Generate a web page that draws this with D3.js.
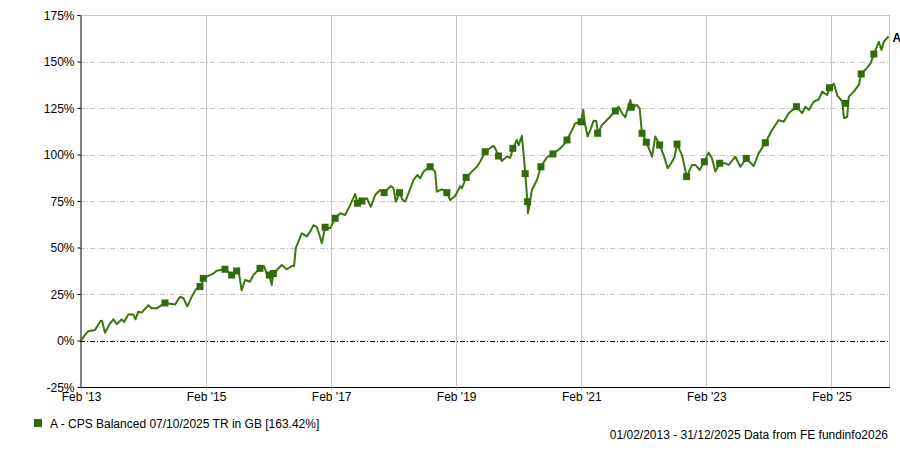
<!DOCTYPE html>
<html>
<head>
<meta charset="utf-8">
<script src="https://cdn.jsdelivr.net/npm/d3@7"></script>
<style>
  body { margin: 0; background: #fff; }
  svg { display: block; font-family: "Liberation Sans", Arial, sans-serif; }
  .grid line { stroke: #c6c6c6; }
  .axis text { font-size: 12px; fill: #000; }
</style>
</head>
<body>
<div id="chart"></div>
<script>
// series A - decimal years and cumulative % growth
var years = [2013.085, 2013.149, 2013.202, 2013.309, 2013.397, 2013.421, 2013.469, 2013.549, 2013.602, 2013.661,
  2013.736, 2013.773, 2013.842, 2013.922, 2013.957, 2014.002, 2014.056, 2014.162, 2014.216, 2014.296,
  2014.429, 2014.589, 2014.669, 2014.725, 2014.786, 2014.856, 2014.925, 2015.005, 2015.045, 2015.096,
  2015.202, 2015.256, 2015.389, 2015.496, 2015.576, 2015.613, 2015.656, 2015.709, 2015.789, 2015.842,
  2015.949, 2016.013, 2016.056, 2016.098, 2016.136, 2016.162, 2016.296, 2016.376, 2016.456, 2016.493,
  2016.520, 2016.616, 2016.696, 2016.749, 2016.802, 2016.856, 2016.898, 2016.936, 2016.989, 2017.069,
  2017.149, 2017.229, 2017.309, 2017.389, 2017.469, 2017.506, 2017.576, 2017.656, 2017.720, 2017.789,
  2017.869, 2017.933, 2018.040, 2018.082, 2018.120, 2018.178, 2018.221, 2018.269, 2018.322, 2018.402,
  2018.466, 2018.509, 2018.562, 2018.669, 2018.749, 2018.776, 2018.856, 2018.936, 2018.989, 2019.069,
  2019.149, 2019.176, 2019.245, 2019.336, 2019.416, 2019.469, 2019.549, 2019.656, 2019.682, 2019.709,
  2019.762, 2019.816, 2019.896, 2019.949, 2019.992, 2020.056, 2020.085, 2020.136, 2020.173, 2020.189,
  2020.226, 2020.232, 2020.253, 2020.296, 2020.376, 2020.440, 2020.536, 2020.632, 2020.749, 2020.797,
  2020.856, 2020.989, 2021.080, 2021.117, 2021.141, 2021.186, 2021.229, 2021.282, 2021.325, 2021.349,
  2021.416, 2021.522, 2021.629, 2021.682, 2021.736, 2021.789, 2021.837, 2021.869, 2021.893, 2021.976,
  2022.018, 2022.056, 2022.125, 2022.216, 2022.269, 2022.338, 2022.402, 2022.466, 2022.536, 2022.578,
  2022.616, 2022.696, 2022.770, 2022.856, 2022.909, 2022.978, 2023.053, 2023.122, 2023.176, 2023.229,
  2023.298, 2023.389, 2023.442, 2023.549, 2023.629, 2023.725, 2023.842, 2023.922, 2024.029, 2024.136,
  2024.242, 2024.322, 2024.402, 2024.525, 2024.616, 2024.669, 2024.722, 2024.802, 2024.882, 2024.936,
  2025.016, 2025.053, 2025.122, 2025.181, 2025.229, 2025.256, 2025.285, 2025.336, 2025.362, 2025.442,
  2025.522, 2025.560, 2025.653, 2025.709, 2025.762, 2025.842, 2025.885, 2025.922, 2025.997];
var growth = [0, 3, 5, 5.6, 10.5, 10.6, 4.2, 9.2, 11.4, 8.8,
  11.4, 10, 14, 14, 11.4, 15.5, 15, 19, 17.3, 17.3,
  20.2, 19.3, 23.5, 22.7, 18.3, 23.5, 27.5, 29, 33.4, 34.3,
  36, 37.5, 38.3, 35.2, 37.4, 36, 27, 32.5, 31.6, 35.2,
  38.8, 40, 36, 35.2, 29.8, 36, 40.6, 38.3, 40, 40,
  49.6, 57.6, 56, 58.5, 62, 61, 56.7, 52.3, 60.9, 60.3,
  65.7, 68.4, 67.5, 72.8, 78.8, 73.8, 75, 76.5, 71.9, 78.2,
  80.9, 79.5, 83.1, 81.8, 74.6, 79.5, 76, 74.6, 79.1, 86.3,
  89, 87.2, 90.8, 93.4, 90.8, 80, 81.3, 79.5, 75.5, 77.7,
  83, 81.8, 87.7, 90.8, 93.4, 96.1, 101.5, 104.2, 104.6, 103.3,
  99.5, 96.5, 99, 98.2, 103, 107.8, 105, 110, 97, 89.7,
  74.6, 68.4, 72, 80.9, 86.3, 93.4, 98.5, 100.3, 103.3, 105,
  107.8, 116.8, 117.6, 124, 116.8, 109.7, 113.2, 118.2, 118, 111.4,
  115.9, 119.5, 123.4, 125.7, 122.2, 120, 126, 129.3, 125.4, 126.6,
  124.8, 111.4, 106.9, 98.8, 109.7, 105.1, 99.7, 92.6, 96.1, 98.8,
  105.6, 99.7, 88.1, 94.4, 94.4, 91.7, 96.1, 101, 97.9, 90.8,
  95.3, 95.3, 94.4, 98.8, 93.4, 97.9, 93.8, 100.6, 106.3, 113.2,
  118.5, 117.6, 122.2, 125.7, 122.2, 125.7, 124, 128.4, 129.7, 133.8,
  132, 135.9, 138.1, 131.5, 129.7, 128.4, 119.5, 120.3, 131.1, 133.8,
  137.4, 143.3, 146.6, 149, 154, 160.6, 156.2, 160.6, 163.42];

// square markers on the line
var markerYears = [2014.429, 2014.989, 2015.042, 2015.389, 2015.496, 2015.576, 2015.949, 2016.098, 2016.162, 2016.989,
  2017.149, 2017.506, 2017.576, 2017.933, 2018.178, 2018.669, 2018.936, 2019.245, 2019.549, 2019.762,
  2019.992, 2020.189, 2020.226, 2020.440, 2020.632, 2020.856, 2021.080, 2021.346, 2021.629, 2021.885,
  2022.056, 2022.125, 2022.338, 2022.616, 2022.770, 2023.053, 2023.298, 2023.725, 2024.029, 2024.525,
  2025.053, 2025.309, 2025.560, 2025.762];
var markerValues = [20.2, 29, 33.4, 38.3, 35.2, 37.4, 38.8, 35.2, 36, 60.9,
  65.7, 73.8, 75, 79.5, 79.5, 93.4, 79.5, 87.7, 101.5, 99.2,
  103.3, 89.7, 74.6, 93.4, 100.3, 107.8, 117.6, 111.4, 123.4, 125.4,
  111.4, 106.6, 105.1, 105.6, 88.1, 96.1, 95.3, 97.9, 106.3, 125.7,
  135.9, 127.5, 143.3, 154];

var xTickDates = ["2013-02-01", "2015-02-01", "2017-02-01", "2019-02-01", "2021-02-01", "2023-02-01", "2025-02-01"];
var xTickLabels = ["Feb '13", "Feb '15", "Feb '17", "Feb '19", "Feb '21", "Feb '23", "Feb '25"];
var yTicks = [-25, 0, 25, 50, 75, 100, 125, 150, 175];

var legendText = "A - CPS Balanced 07/10/2025 TR in GB [163.42%]";
var footerText = "01/02/2013 - 31/12/2025 Data from FE fundinfo2026";

// decimal year -> Date
function toDate(v) {
  var yr = Math.floor(v);
  var start = Date.UTC(yr, 0, 1), end = Date.UTC(yr + 1, 0, 1);
  return new Date(start + (v - yr) * (end - start));
}

var width = 900, height = 450;
var plotLeft = 80, plotRight = 889, plotTop = 15, plotBottom = 387;

var svg = d3.select("#chart").append("svg")
  .attr("width", width)
  .attr("height", height);

var x = d3.scaleTime()
  .domain([toDate(2013.085), toDate(2025.997)])
  .range([81, 888.5]);
var y = d3.scaleLinear()
  .domain([-25, 175])
  .range([plotBottom, plotTop]);

var tickDates = xTickDates.map(function (d) { return new Date(d + "T00:00:00Z"); });

// vertical gridlines
svg.append("g")
  .attr("class", "grid")
  .selectAll("line")
  .data(tickDates.slice(1))
  .enter().append("line")
    .attr("x1", function (d) { return Math.round(x(d)) + 0.5; })
    .attr("x2", function (d) { return Math.round(x(d)) + 0.5; })
    .attr("y1", plotTop)
    .attr("y2", plotBottom + 3);

// horizontal gridlines (dash-dot)
svg.append("g")
  .attr("class", "grid")
  .selectAll("line")
  .data(yTicks.filter(function (d) { return d > 0 && d < 175; }))
  .enter().append("line")
    .attr("x1", plotLeft)
    .attr("x2", plotRight)
    .attr("y1", function (d) { return Math.round(y(d)) + 0.5; })
    .attr("y2", function (d) { return Math.round(y(d)) + 0.5; })
    .style("stroke-dasharray", "5,2,1,2");

// top and right frame
svg.append("line")
  .attr("x1", plotLeft).attr("x2", plotRight + 0.5)
  .attr("y1", plotTop + 0.5).attr("y2", plotTop + 0.5)
  .style("stroke", "#c6c6c6");
svg.append("line")
  .attr("x1", plotRight + 0.5).attr("x2", plotRight + 0.5)
  .attr("y1", plotTop).attr("y2", plotBottom)
  .style("stroke", "#c6c6c6");

// zero line
svg.append("line")
  .attr("x1", plotLeft).attr("x2", plotRight)
  .attr("y1", Math.round(y(0)) + 0.5).attr("y2", Math.round(y(0)) + 0.5)
  .style("stroke", "#000")
  .style("stroke-dasharray", "5,2,1,2");

// Y axis
var yAxis = svg.append("g")
  .attr("class", "axis")
  .attr("transform", "translate(" + (plotLeft + 0.5) + ",0)")
  .call(d3.axisLeft(y)
    .tickValues(yTicks)
    .tickFormat(function (d) { return d + "%"; })
    .tickSize(3)
    .tickPadding(3)
    .tickSizeOuter(0));
yAxis.select(".domain").style("stroke", "#000");
yAxis.selectAll("text").attr("dy", "0.36em");

// X axis
var xAxis = svg.append("g")
  .attr("class", "axis")
  .attr("transform", "translate(0," + (plotBottom + 0.5) + ")")
  .call(d3.axisBottom(x)
    .tickValues(tickDates)
    .tickFormat(function (d, i) { return xTickLabels[i]; })
    .tickSize(3)
    .tickPadding(2)
    .tickSizeOuter(0));
xAxis.select(".domain").attr("d", "M" + plotLeft + ",0H" + (plotRight + 1)).style("stroke", "#000");
xAxis.selectAll(".tick line").style("stroke", "#c6c6c6");

// series line
var series = years.map(function (d, i) { return { date: toDate(d), value: growth[i] }; });
var line = d3.line()
  .x(function (d) { return x(d.date); })
  .y(function (d) { return y(d.value); });

svg.append("path")
  .datum(series)
  .attr("d", line)
  .style("fill", "none")
  .style("stroke", "#3a7710")
  .style("stroke-width", 2)
  .style("stroke-linejoin", "round");

// markers
var markers = markerYears.map(function (d, i) { return { date: toDate(d), value: markerValues[i] }; });
svg.selectAll("rect.marker")
  .data(markers)
  .enter().append("rect")
    .attr("class", "marker")
    .attr("x", function (d) { return x(d.date) - 3.5; })
    .attr("y", function (d) { return y(d.value) - 3.5; })
    .attr("width", 7)
    .attr("height", 7)
    .style("fill", "#336a0c");

// end label
var last = series[series.length - 1];
svg.append("text")
  .attr("x", x(last.date) + 4)
  .attr("y", y(last.value) + 5)
  .style("font-size", "12px")
  .style("font-weight", "bold")
  .text("A");

// legend
svg.append("rect")
  .attr("x", 34).attr("y", 419)
  .attr("width", 8).attr("height", 8)
  .style("fill", "#336a0c");
svg.append("text")
  .attr("x", 50).attr("y", 428)
  .style("font-size", "12px")
  .text(legendText);

// footer
svg.append("text")
  .attr("x", 888).attr("y", 439)
  .attr("text-anchor", "end")
  .style("font-size", "12px")
  .text(footerText);
</script>
</body>
</html>
